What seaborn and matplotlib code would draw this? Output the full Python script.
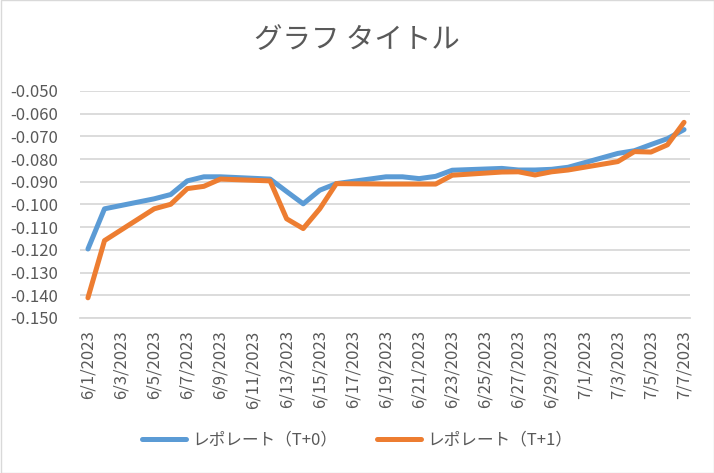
import matplotlib
matplotlib.use("Agg")
import matplotlib.pyplot as plt
import matplotlib.dates as mdates
from matplotlib.ticker import FuncFormatter, MultipleLocator
from matplotlib.patches import Rectangle
import seaborn as sns
import pandas as pd
import numpy as np

dates = ["2023-06-01", "2023-06-02", "2023-06-05", "2023-06-06", "2023-06-07",
         "2023-06-08", "2023-06-09", "2023-06-12", "2023-06-13", "2023-06-14",
         "2023-06-15", "2023-06-16", "2023-06-19", "2023-06-20", "2023-06-21",
         "2023-06-22", "2023-06-23", "2023-06-26", "2023-06-27", "2023-06-28",
         "2023-06-29", "2023-06-30", "2023-07-03", "2023-07-04", "2023-07-05",
         "2023-07-06", "2023-07-07"]
t0 = [-0.1196, -0.1019, -0.0975, -0.0956, -0.0896, -0.0878, -0.0878, -0.0888,
      -0.0943, -0.0997, -0.0937, -0.0908, -0.0878, -0.0878, -0.0886, -0.0876,
      -0.0849, -0.0841, -0.0848, -0.0848, -0.0845, -0.0836, -0.0775, -0.0763,
      -0.0736, -0.0710, -0.0670]
t1 = [-0.1411, -0.1159, -0.1019, -0.0999, -0.0930, -0.0920, -0.0888, -0.0896,
      -0.1063, -0.1106, -0.1019, -0.0908, -0.0910, -0.0910, -0.0910, -0.0910,
      -0.0871, -0.0857, -0.0856, -0.0870, -0.0856, -0.0848, -0.0811, -0.0767,
      -0.0769, -0.0737, -0.0638]
series_names = ["レポレート（T+0）", "レポレート（T+1）"]
colors = ["#5B9BD5", "#ED7D31"]
title = "グラフ タイトル"

sns.set_theme(style="white")
plt.rcParams['font.family'] = ['Noto Sans CJK JP', 'DejaVu Sans']
txt = "#595959"

d = pd.to_datetime(dates)
df = pd.DataFrame({"date": list(d) * 2,
                   "value": t0 + t1,
                   "series": [series_names[0]] * len(d) + [series_names[1]] * len(d)})

fig = plt.figure(figsize=(7.14, 4.73), dpi=100)
ax = fig.add_axes([80 / 714, 1 - 318 / 473, 610 / 714, 227 / 473])

sns.lineplot(data=df, x="date", y="value", hue="series", palette=colors,
             linewidth=3.6, ax=ax, legend=True)
for ln in ax.lines:
    ln.set_solid_capstyle("round")
    ln.set_solid_joinstyle("round")

start = pd.Timestamp("2023-06-01")
end = pd.Timestamp("2023-07-07")
ax.set_xlim(mdates.date2num(start) - 0.48, mdates.date2num(end) + 0.36)
ax.set_ylim(-0.15, -0.05)
ax.yaxis.set_major_locator(MultipleLocator(0.01))
ax.yaxis.set_major_formatter(FuncFormatter(lambda v, p: f"{v:.3f}"))
ticks = pd.date_range(start, end, freq="2D")
ax.set_xticks(mdates.date2num(ticks))
ax.set_xticklabels([f"{t.month}/{t.day}/{t.year}" for t in ticks], rotation=90)

ax.grid(axis="y", color="#d9d9d9", linewidth=1.3)
ax.grid(axis="x", visible=False)
for s in ["left", "right", "top"]:
    ax.spines[s].set_visible(False)
ax.spines["bottom"].set_color("#d9d9d9")
ax.spines["bottom"].set_linewidth(1.3)
ax.tick_params(axis="both", length=0, labelsize=12, labelcolor=txt)
ax.tick_params(axis="y", pad=16)
ax.tick_params(axis="x", pad=9)
ax.set_xlabel("")
ax.set_ylabel("")
for ln in ax.lines:
    ln.set_clip_on(False)

handles, labels = ax.get_legend_handles_labels()
ax.get_legend().remove()
leg = fig.legend(handles, labels, loc="center", bbox_to_anchor=(0.5, 1 - 440 / 473),
                 ncol=2, frameon=False, fontsize=12, handlelength=2.65,
                 columnspacing=2.4, handletextpad=0.35)
for t in leg.get_texts():
    t.set_color(txt)
for h in leg.legend_handles:
    h.set_linewidth(3.6)

fig.text(0.5, 1 - 40 / 473, title, ha="center", va="center", fontsize=20.5, color=txt)
fig.patches.append(Rectangle((0.5 / 714, 0.5 / 473), 1 - 1 / 714, 1 - 1 / 473,
                             transform=fig.transFigure, fill=False,
                             edgecolor="#d9d9d9", linewidth=1.0))

fig.savefig("out.png", dpi=100)
